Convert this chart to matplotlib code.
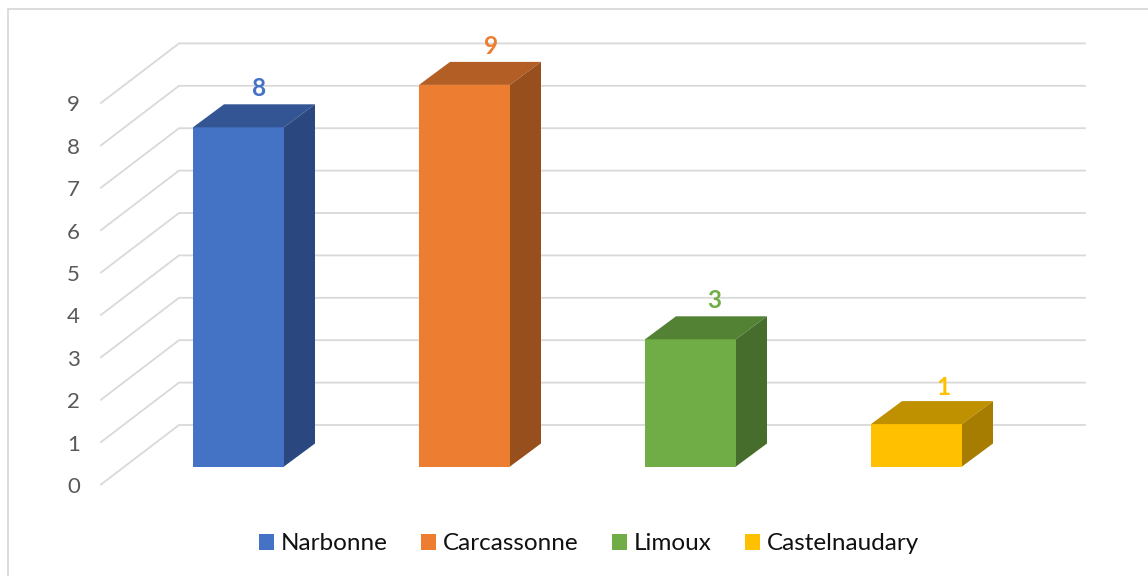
import matplotlib
matplotlib.use("Agg")
import matplotlib.pyplot as plt
from matplotlib.patches import Polygon, Rectangle
from matplotlib.lines import Line2D

categories = ["Narbonne", "Carcassonne", "Limoux", "Castelnaudary"]
values = [8, 9, 3, 1]
front_colors = ["#4472C4", "#ED7D31", "#70AD47", "#FFC000"]
top_colors = ["#335593", "#B25E25", "#548235", "#BF9000"]
side_colors = ["#2A4780", "#974F1E", "#466D2C", "#A67D00"]
y_ticks = list(range(10))
label_dx_px = [21, 26.5, 23.5, 26.5]
label_dy_px = [17.5, 17, 17.5, 15.5]

W, H = 1148, 576
px_x, px_y = 226.0, 42.4      # pixels per category / per value
x0_px, y0_px = 238.5, 466.5   # pixel of first bar centre / baseline
fig = plt.figure(figsize=(W / 100, H / 100), dpi=100)
ax = fig.add_axes([0, 0, 1, 1])
ax.set_xlim(-x0_px / px_x, (W - x0_px) / px_x)
ax.set_ylim((y0_px - H) / px_y, y0_px / px_y)
ax.axis("off")

dx = lambda p: p / px_x
dy = lambda p: p / px_y
grid = "#D9D9D9"

# outer frame, open on the right and at the bottom
ax.add_line(Line2D([dx(8.5 - x0_px), dx(8.5 - x0_px), dx(W - x0_px)],
                   [dy(y0_px - H), dy(y0_px - 9), dy(y0_px - 9)],
                   color=grid, lw=1.3, zorder=1))

# gridlines on the floor-to-wall slant and back wall
for v in y_ticks:
    yb = v + dy(41.5)
    yf = v - dy(18)
    ax.plot([dx(101 - x0_px), dx(179 - x0_px), dx(1085 - x0_px)],
            [yf, yb, yb], color=grid, lw=1.3, zorder=1, solid_joinstyle="miter")
    ax.text(dx(80 - x0_px), yf - dy(0.5), str(v), ha="right", va="center_baseline",
            fontsize=16, color="#595959", family="Lato", zorder=5)

# 3-D bars
hw = 45.5 / px_x
ddx, ddy = dx(31), dy(23)
for i, (name, v) in enumerate(zip(categories, values)):
    l, r = i - hw, i + hw
    ax.add_patch(Rectangle((l, 0), r - l, v, fc=front_colors[i], ec="none", zorder=3))
    ax.add_patch(Polygon([(l, v), (r, v), (r + ddx, v + ddy), (l + ddx, v + ddy)],
                         fc=top_colors[i], ec="none", zorder=3))
    ax.add_patch(Polygon([(r, 0), (r + ddx, ddy), (r + ddx, v + ddy), (r, v)],
                         fc=side_colors[i], ec="none", zorder=3))
    ax.text(i + dx(label_dx_px[i]), v + ddy + dy(label_dy_px[i]), str(v),
            ha="center", va="center_baseline", fontsize=17.5, fontweight="bold",
            color=front_colors[i], family="Lato", zorder=5)

# legend
handles = [Rectangle((0, 0), 1, 1, fc=c, ec="none") for c in front_colors]
fig.legend(handles, categories, loc="center", bbox_to_anchor=(589 / W, 1 - 544 / H),
           ncol=4, frameon=False, handlelength=0.62, handleheight=0.62,
           handletextpad=0.25, columnspacing=1.4, borderpad=0, borderaxespad=0,
           prop={"family": "Lato", "size": 17.5}, labelcolor="#111111")

fig.savefig("out.png", dpi=100)
